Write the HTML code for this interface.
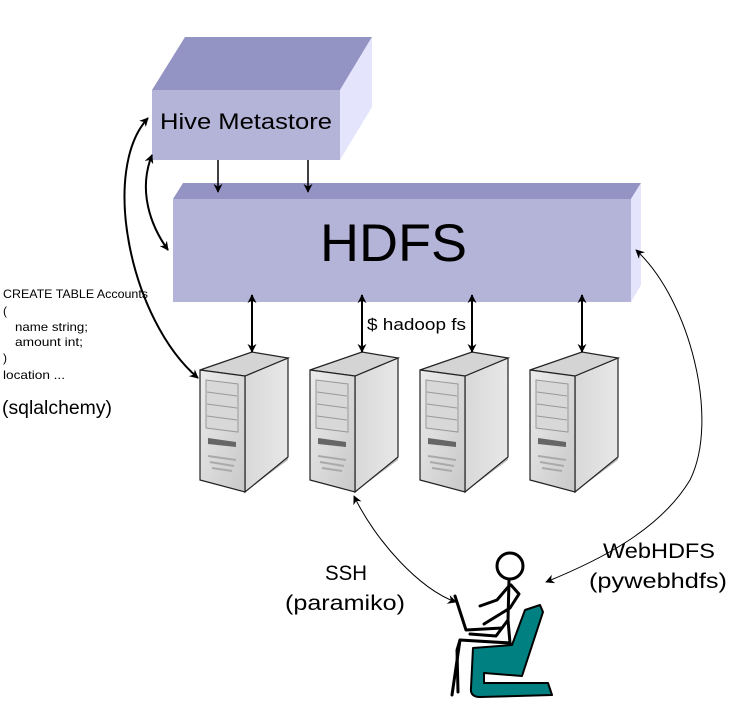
<!DOCTYPE html>
<html><head><meta charset="utf-8"><style>
html,body{margin:0;padding:0;background:#fff;}
svg{display:block;font-family:"Liberation Sans",sans-serif;}
</style></head><body>
<svg width="736" height="710" viewBox="0 0 736 710" xmlns="http://www.w3.org/2000/svg">
<defs>
<marker id="ah" viewBox="0 0 10 10" refX="9" refY="5" markerWidth="9" markerHeight="9" orient="auto-start-reverse" markerUnits="userSpaceOnUse">
<path d="M0,0 L10,5 L0,10 L3,5 Z" fill="#000"/></marker>
<linearGradient id="fr" x1="0" y1="0" x2="1" y2="1"><stop offset="0" stop-color="#ececec"/><stop offset="1" stop-color="#c8c8c8"/></linearGradient>
<linearGradient id="sd" x1="0" y1="0" x2="1" y2="0"><stop offset="0" stop-color="#d8d8d8"/><stop offset="1" stop-color="#e8e8e8"/></linearGradient>
<g id="srv">
<path d="M0,18 L52,0 L88,6 L88,108 L45,140 L0,122 Z" fill="#bbb"/>
<path d="M45,24 L88,6 L88,105 L45,140 Z" fill="url(#sd)" stroke="#222" stroke-width="1.2"/>
<path d="M0,18 L52,0 L88,6 L45,24 Z" fill="#d4d4d4" stroke="#222" stroke-width="1.2"/>
<path d="M0,18 L45,24 L45,140 L0,128 Z" fill="url(#fr)" stroke="#222" stroke-width="1.2"/>
<path d="M6,28 L38,32 L38,80 L6,76 Z" fill="#d8d8d8" stroke="#999" stroke-width="1"/>
<path d="M7,40 L37,44 M7,52 L37,56 M7,64 L37,68" stroke="#999" stroke-width="1"/>
<path d="M8,86 L36,90 L36,95 L8,92 Z" fill="#666"/>
<path d="M8,104 L36,108 M10,110 L34,114 M12,116 L32,119" stroke="#aaa" stroke-width="2"/>
</g>
</defs>

<polygon points="152,90 185,37 372,37 340,90" fill="#9494c4"/>
<polygon points="340,90 372,37 372,107 340,160" fill="#e4e4fc"/>
<rect x="152" y="90" width="188" height="70" fill="#b4b4d8"/>
<text x="160" y="129" font-size="22" textLength="172" lengthAdjust="spacingAndGlyphs">Hive Metastore</text>

<polygon points="173,199 183,183 641,183 631,199" fill="#9494c4"/>
<polygon points="631,199 641,183 641,285 631,302" fill="#e4e4fc"/>
<rect x="173" y="199" width="458" height="103" fill="#b4b4d8"/>
<text x="320" y="261" font-size="53" textLength="147" lengthAdjust="spacingAndGlyphs">HDFS</text>

<line x1="218" y1="160" x2="218" y2="192" stroke="#000" stroke-width="1.5" marker-end="url(#ah)"/>
<line x1="308" y1="160" x2="308" y2="192" stroke="#000" stroke-width="1.5" marker-end="url(#ah)"/>

<use href="#srv" x="200" y="352"/>
<use href="#srv" x="310" y="352"/>
<use href="#srv" x="420" y="352"/>
<use href="#srv" x="530" y="352"/>

<g stroke="#000" stroke-width="2">
<line x1="252" y1="295" x2="252" y2="352" marker-start="url(#ah)" marker-end="url(#ah)"/>
<line x1="362" y1="295" x2="362" y2="352" marker-start="url(#ah)" marker-end="url(#ah)"/>
<line x1="472" y1="295" x2="472" y2="352" marker-start="url(#ah)" marker-end="url(#ah)"/>
<line x1="582" y1="295" x2="582" y2="352" marker-start="url(#ah)" marker-end="url(#ah)"/>
</g>
<text x="367" y="330" font-size="17" textLength="99" lengthAdjust="spacingAndGlyphs">$ hadoop fs</text>

<path d="M148,118 C100,170 130,320 198,378" fill="none" stroke="#000" stroke-width="2" marker-start="url(#ah)" marker-end="url(#ah)"/>
<path d="M152,155 C138,190 150,225 168,250" fill="none" stroke="#000" stroke-width="2" marker-start="url(#ah)" marker-end="url(#ah)"/>

<path d="M354,496 C375,540 420,590 456,602" fill="none" stroke="#000" stroke-width="1" marker-start="url(#ah)" marker-end="url(#ah)"/>
<path d="M636,250 C690,300 720,420 690,480 C660,530 600,560 546,582" fill="none" stroke="#000" stroke-width="1" marker-start="url(#ah)" marker-end="url(#ah)"/>

<g font-size="12" fill="#000" lengthAdjust="spacingAndGlyphs">
<text x="3" y="298" textLength="145" lengthAdjust="spacingAndGlyphs">CREATE TABLE Accounts</text>
<text x="3" y="315">(</text>
<text x="15" y="331" textLength="73" lengthAdjust="spacingAndGlyphs">name string;</text>
<text x="15" y="346" textLength="68" lengthAdjust="spacingAndGlyphs">amount int;</text>
<text x="3" y="362">)</text>
<text x="3" y="379" textLength="62" lengthAdjust="spacingAndGlyphs">location ...</text>
</g>
<text x="2" y="414" font-size="19" textLength="110" lengthAdjust="spacingAndGlyphs">(sqlalchemy)</text>

<text x="325" y="580" font-size="21" textLength="42" lengthAdjust="spacingAndGlyphs">SSH</text>
<text x="285" y="610" font-size="21" textLength="120" lengthAdjust="spacingAndGlyphs">(paramiko)</text>
<text x="603" y="558" font-size="21" textLength="112" lengthAdjust="spacingAndGlyphs">WebHDFS</text>
<text x="589" y="588" font-size="21" textLength="138" lengthAdjust="spacingAndGlyphs">(pywebhdfs)</text>

<g fill="none" stroke="#000" stroke-width="3" stroke-linecap="round" stroke-linejoin="round">
<circle cx="510" cy="566" r="13"/>
<path d="M509,580 L508,620 L496,636 L470,634"/>
<path d="M509,586 L497,600 L480,606"/>
<path d="M511,585 L519,594 L510,608 L484,624"/>
<path d="M455,596 L466,630 L502,628"/>
<path d="M508,620 L510,643 L460,640 L452,695"/>
<path d="M460,640 L457,650 L458,692"/>
</g>
<path d="M473,648 L512,645 L525,610 L540,605 L543,612 L522,676 L484,673 L484,683 L548,683 L552,695 L480,697 Q470,697 471,688 Z" fill="#008080" stroke="#000" stroke-width="2" stroke-linejoin="round"/>
</svg>
</body></html>
